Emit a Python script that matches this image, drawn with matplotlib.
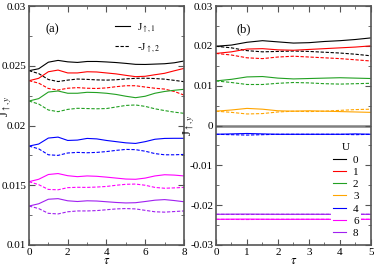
import numpy as np
import matplotlib
matplotlib.use("Agg")
import matplotlib.pyplot as plt
from matplotlib.ticker import MultipleLocator
from matplotlib.lines import Line2D

plt.rcParams['font.family'] = 'serif'
plt.rcParams['font.serif'] = ['Liberation Serif', 'DejaVu Serif']
plt.rcParams['mathtext.fontset'] = 'stix'

# panel (a): tau = 0..8 step 0.5
tau_a = np.arange(0, 8.01, 0.5)
a_j1 = {
    '0': [.02459, .02475, .02530, .02545, .02533, .02528, .02536, .02536, .02532, .02527, .02520, .02512, .02511, .02514, .02517, .02525, .02540],
    '1': [.02375, .02395, .02450, .02464, .02440, .02440, .02450, .02448, .02440, .02432, .02420, .02409, .02412, .02425, .02437, .02458, .02478],
    '2': [.02205, .02225, .02280, .02289, .02270, .02270, .02278, .02276, .02270, .02260, .02245, .02233, .02245, .02270, .02285, .02295, .02303],
    '4': [.01828, .01845, .01895, .01903, .01875, .01878, .01892, .01888, .01875, .01865, .01855, .01850, .01865, .01885, .01892, .01893, .01893],
    '6': [.01530, .01550, .01590, .01598, .01580, .01572, .01578, .01575, .01568, .01560, .01552, .01550, .01560, .01578, .01588, .01585, .01578],
    '8': [.01326, .01345, .01383, .01388, .01370, .01364, .01370, .01368, .01362, .01356, .01352, .01354, .01364, .01375, .01380, .01372, .01362],
}
a_j2 = {
    '0': [.02459, .02435, .02385, .02368, .02380, .02389, .02386, .02382, .02380, .02383, .02390, .02395, .02396, .02393, .02388, .02378, .02367],
    '1': [.02375, .02355, .02310, .02297, .02312, .02317, .02312, .02310, .02315, .02325, .02333, .02333, .02322, .02312, .02305, .02285, .02255],
    '2': [.02205, .02180, .02130, .02116, .02135, .02144, .02142, .02140, .02142, .02155, .02168, .02172, .02160, .02140, .02125, .02112, .02102],
    '4': [.01828, .01805, .01755, .01750, .01770, .01775, .01772, .01775, .01782, .01792, .01800, .01798, .01785, .01765, .01755, .01755, .01758],
    '6': [.01530, .01505, .01465, .01462, .01480, .01483, .01482, .01485, .01490, .01500, .01508, .01510, .01500, .01482, .01475, .01478, .01482],
    '8': [.01326, .01305, .01265, .01260, .01278, .01285, .01285, .01288, .01295, .01302, .01305, .01302, .01290, .01278, .01275, .01280, .01285],
}

# panel (b): tau = 0..5 step 0.5
tau_b = np.arange(0, 5.01, 0.5)
b_j1 = {
    '0': [.0199, .0202, .0209, .0213, .0210, .0207, .0208, .0211, .0213, .0216, .0220],
    '1': [.0181, .0185, .0192, .0193, .0190, .0189, .0191, .0193, .0195, .0197, .0200],
    '2': [.0112, .0116, .0122, .0123, .0119, .0117, .0118, .0119, .0120, .0119, .0118],
    '3': [.0036, .0039, .0043, .0041, .0037, .0036, .0037, .0036, .0035, .0034, .0033],
    '4': [-.0022, -.0021, -.0020, -.0021, -.0022, -.0022, -.0022, -.0022, -.0022, -.0021, -.0022],
    '6': [-.02355, -.02352, -.02350, -.02353, -.02356, -.02355, -.02354, -.02355, -.02356, -.02355, -.02355],
    '8': [-.02229, -.02226, -.02224, -.02227, -.02229, -.02229, -.02228, -.02229, -.02229, -.02228, -.02229],
}
b_j2 = {
    '0': [.0199, .0195, .0188, .0185, .0186, .0187, .0186, .0184, .0182, .0179, .0175],
    '1': [.0181, .0177, .0170, .0168, .0172, .0174, .0172, .0170, .0168, .0165, .0162],
    '2': [.0112, .0108, .0103, .0103, .0106, .0108, .0107, .0105, .0104, .0105, .0106],
    '3': [.0036, .0033, .0029, .0030, .0034, .0036, .0035, .0036, .0038, .0040, .0041],
    '4': [-.0022, -.0023, -.0024, -.0023, -.0022, -.0022, -.0022, -.0022, -.0022, -.0023, -.0022],
    '6': [-.02355, -.02358, -.02360, -.02357, -.02355, -.02355, -.02356, -.02355, -.02354, -.02355, -.02355],
    '8': [-.02229, -.02232, -.02234, -.02231, -.02229, -.02229, -.02230, -.02229, -.02229, -.02230, -.02229],
}

colors = {'0': 'black', '1': 'red', '2': '#22a022', '3': 'orange',
          '4': 'blue', '6': 'magenta', '8': '#a020f0'}
dash = (0, (3, 1.5))
lw = 0.8

fig = plt.figure(figsize=(3.74, 2.67), dpi=100)
axa = fig.add_axes([0.0775, 0.0824, 0.4144, 0.895])
axb = fig.add_axes([0.5775, 0.0824, 0.4144, 0.895])

for U in a_j1:
    axa.plot(tau_a, a_j1[U], color=colors[U], lw=lw)
    axa.plot(tau_a, a_j2[U], color=colors[U], lw=lw, linestyle=dash)

axb.axhline(0, color='#808080', lw=1.8, zorder=1)
handles = []
for U in b_j1:
    h, = axb.plot(tau_b, b_j1[U], color=colors[U], lw=lw)
    axb.plot(tau_b, b_j2[U], color=colors[U], lw=lw, linestyle=dash)
    handles.append(h)

for ax in (axa, axb):
    ax.tick_params(which='both', direction='in', top=True, right=True,
                   labelsize=8, color='#555555', pad=2)
    ax.tick_params(which='major', length=4)
    ax.tick_params(which='minor', length=2)
    for s in ax.spines.values():
        s.set_color('#555555')
        s.set_linewidth(1.2)
    ax.set_xlabel(r'$\tau$', fontsize=9, labelpad=-1)
    ax.set_ylabel(r'J$_{\uparrow,y}$', fontsize=9)

axa.yaxis.set_label_coords(-0.095, 0.58)
axb.yaxis.set_label_coords(-0.12, 0.5)

axa.set_xlim(0, 8)
axa.set_ylim(0.01, 0.03)
axa.xaxis.set_major_locator(MultipleLocator(2))
axa.xaxis.set_minor_locator(MultipleLocator(1))
axa.yaxis.set_major_locator(MultipleLocator(0.005))
axa.yaxis.set_minor_locator(MultipleLocator(0.0025))
axa.set_yticks([0.01, 0.015, 0.02, 0.025, 0.03])
axa.set_yticklabels(['0.01', '0.015', '0.02', '0.025', '0.03'])
axa.text(0.105, 0.89, '(a)', transform=axa.transAxes, fontsize=9)

leg_a = [Line2D([], [], color='black', lw=lw),
         Line2D([], [], color='black', lw=lw, linestyle=dash)]
axa.legend(leg_a, [r'J$_{\uparrow,1}$', r'-J$_{\uparrow,2}$'], loc='upper right',
           bbox_to_anchor=(0.875, 0.955), frameon=False, fontsize=8,
           handlelength=1.4, labelspacing=0.6, borderaxespad=0.0,
           handletextpad=0.6)

axb.set_xlim(0, 5)
axb.set_ylim(-0.03, 0.03)
axb.xaxis.set_major_locator(MultipleLocator(1))
axb.xaxis.set_minor_locator(MultipleLocator(0.5))
axb.yaxis.set_major_locator(MultipleLocator(0.01))
axb.yaxis.set_minor_locator(MultipleLocator(0.005))
axb.set_yticks([-0.03, -0.02, -0.01, 0, 0.01, 0.02, 0.03])
axb.set_yticklabels(['-0.03', '-0.02', '-0.01', '0', '0.01', '0.02', '0.03'])
axb.text(0.135, 0.89, '(b)', transform=axb.transAxes, fontsize=9)

axb.legend(handles, list(b_j1.keys()), title='U', loc='lower right',
           bbox_to_anchor=(0.935, 0.02),
           fontsize=8, title_fontsize=8, handlelength=1.2, labelspacing=0.22,
           frameon=True, edgecolor='none', facecolor='white', framealpha=1,
           borderaxespad=0.0, borderpad=0.2, handletextpad=0.6)

fig.savefig('out.png', dpi=100)
